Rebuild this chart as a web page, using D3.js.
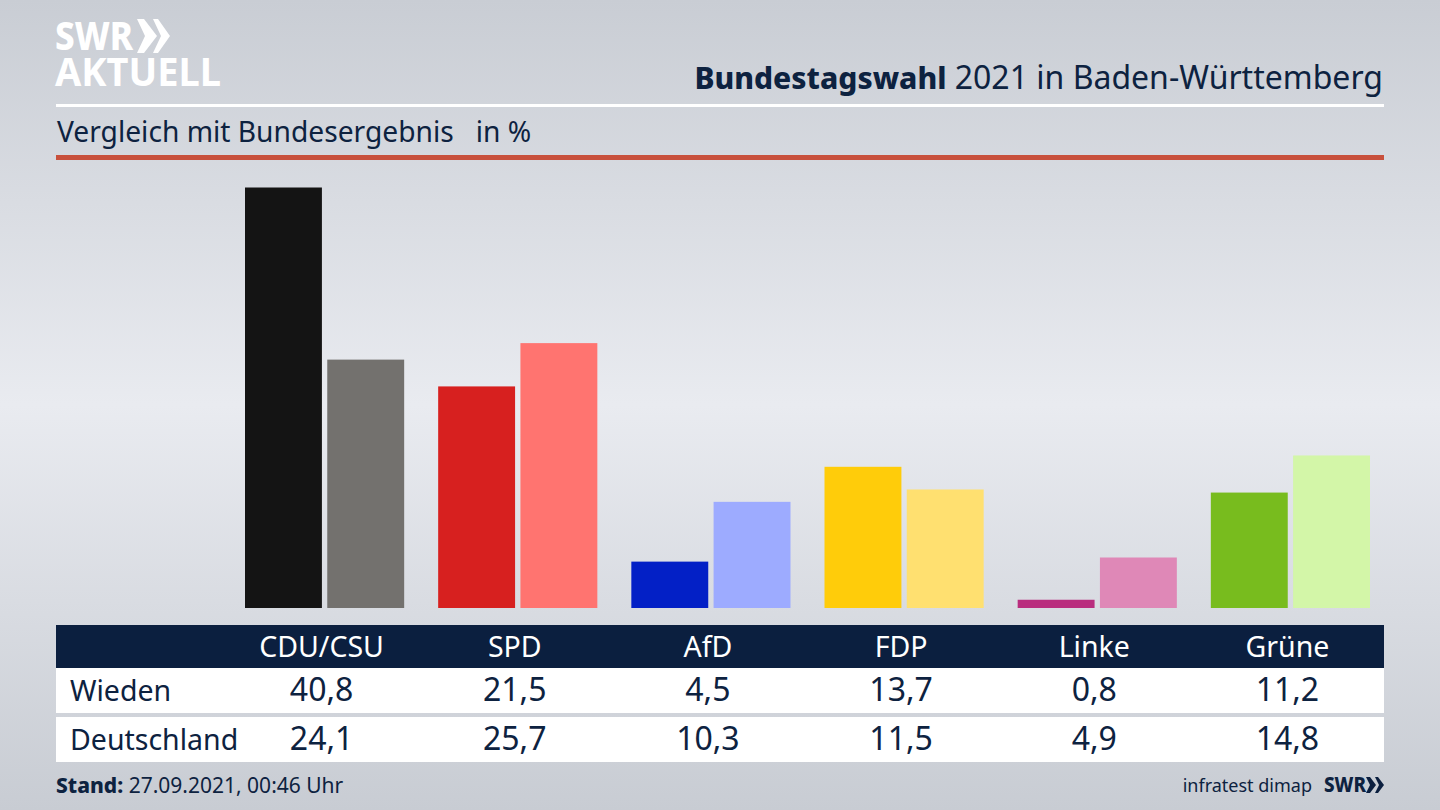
<!DOCTYPE html>
<html lang="de">
<head>
<meta charset="utf-8">
<title>Bundestagswahl 2021 in Baden-Württemberg</title>
<script src="https://cdn.jsdelivr.net/npm/d3@7"></script>
<style>
  html, body { margin: 0; padding: 0; background: #d5d8de; }
  svg { display: block; }
  text { font-family: "Noto Sans", sans-serif; fill: #0d2240; }
</style>
</head>
<body>
<svg width="1440" height="810"></svg>
<script>
// Data
var parties = ['CDU/CSU', 'SPD', 'AfD', 'FDP', 'Linke', 'Grüne'];
var seriesNames = ['Wieden', 'Deutschland'];
var wieden = [40.8, 21.5, 4.5, 13.7, 0.8, 11.2];
var deutschland = [24.1, 25.7, 10.3, 11.5, 4.9, 14.8];
var darkColors = ['#141414', '#d7201f', '#0320c6', '#ffcc0a', '#b92d7e', '#78bc1e'];
var lightColors = ['#73716e', '#ff7470', '#9dabff', '#ffe070', '#df88b7', '#d3f6a8'];

var navy = '#0b1f3f';
var svg = d3.select('svg');

// Background, light band through the middle
var grad = svg.append('defs').append('linearGradient')
    .attr('id', 'bg').attr('x1', 0).attr('y1', 0).attr('x2', 0).attr('y2', 1);
[[0, '#c9cdd4'], [0.5, '#e9ebf0'], [1, '#c8ccd3']].forEach(function(s) {
  grad.append('stop').attr('offset', s[0]).attr('stop-color', s[1]);
});
svg.append('rect').attr('width', 1440).attr('height', 810).attr('fill', 'url(#bg)');

// Scales: one band per party, two bars in each band
var x = d3.scaleBand().domain(parties).range([245, 1370]).paddingInner(0.176);
var xInner = d3.scaleBand().domain(seriesNames).range([0, x.bandwidth()]).paddingInner(0.065);
var y = d3.scaleLinear().domain([0, 40.8]).range([608, 187.5]);

// Logo
svg.append('text').attr('x', 55).attr('y', 50)
    .style('font-size', '40px').style('font-weight', 800).style('fill', '#fff')
    .attr('textLength', 78).attr('lengthAdjust', 'spacingAndGlyphs').text('SWR');
svg.append('text').attr('x', 55).attr('y', 86)
    .style('font-size', '40px').style('font-weight', 700).style('fill', '#fff')
    .attr('textLength', 166).attr('lengthAdjust', 'spacingAndGlyphs').text('AKTUELL');
svg.append('path').attr('fill', '#fff')
    .attr('d', 'M137 19h7l13 17-13 17h-7l8-17zM153 19h5l12 17-12 17h-5l8-17z');

// Header
var title = svg.append('text').attr('x', 1383).attr('y', 89).attr('text-anchor', 'end');
title.append('tspan').style('font-size', '30px').style('font-weight', 800).text('Bundestagswahl');
title.append('tspan').style('font-size', '32px').text(' 2021 in Baden-Württemberg');
svg.append('rect').attr('x', 56).attr('y', 104).attr('width', 1328).attr('height', 3).attr('fill', '#fff');
svg.append('text').attr('x', 57).attr('y', 142).style('font-size', '28.2px')
    .attr('xml:space', 'preserve').style('white-space', 'pre').text('Vergleich mit Bundesergebnis   in %');
svg.append('rect').attr('x', 56).attr('y', 155).attr('width', 1328).attr('height', 5).attr('fill', '#c8503c');

// Bars
var groups = svg.selectAll('.party')
    .data(parties)
  .enter().append('g')
    .attr('class', 'party')
    .attr('transform', function(d) { return 'translate(' + x(d) + ',0)'; });

groups.append('rect')
    .attr('x', xInner('Wieden'))
    .attr('width', xInner.bandwidth())
    .attr('y', function(d, i) { return y(wieden[i]); })
    .attr('height', function(d, i) { return y(0) - y(wieden[i]); })
    .attr('fill', function(d, i) { return darkColors[i]; });

groups.append('rect')
    .attr('x', xInner('Deutschland'))
    .attr('width', xInner.bandwidth())
    .attr('y', function(d, i) { return y(deutschland[i]); })
    .attr('height', function(d, i) { return y(0) - y(deutschland[i]); })
    .attr('fill', function(d, i) { return lightColors[i]; });

// Table under the bars
svg.append('rect').attr('x', 56).attr('y', 625).attr('width', 1328).attr('height', 43).attr('fill', navy);
svg.append('rect').attr('x', 56).attr('y', 668).attr('width', 1328).attr('height', 45).attr('fill', '#fff');
svg.append('rect').attr('x', 56).attr('y', 717).attr('width', 1328).attr('height', 45).attr('fill', '#fff');

// Column centres sit slightly left of the bar groups
function colX(d) { return x(d) + x.bandwidth() / 2 - 3; }
function comma(v) { return d3.format('.1f')(v).replace('.', ','); }

svg.selectAll('.head')
    .data(parties)
  .enter().append('text')
    .attr('class', 'head')
    .attr('x', colX).attr('y', 657).attr('text-anchor', 'middle')
    .style('font-size', '28.5px').style('fill', '#fff')
    .text(function(d) { return d; });

[[seriesNames[0], wieden, 701], [seriesNames[1], deutschland, 750]].forEach(function(row) {
  svg.append('text').attr('x', 70).attr('y', row[2]).style('font-size', '28.5px').text(row[0]);
  svg.selectAll('.row' + row[2])
      .data(row[1])
    .enter().append('text')
      .attr('x', function(d, i) { return colX(parties[i]); })
      .attr('y', row[2]).attr('text-anchor', 'middle')
      .style('font-size', '32px')
      .text(comma);
});

// Footer
var stand = svg.append('text').attr('x', 56).attr('y', 793).style('font-size', '21px');
stand.append('tspan').style('font-weight', 800).text('Stand:');
stand.append('tspan').text(' 27.09.2021, 00:46 Uhr');
svg.append('text').attr('x', 1312).attr('y', 792).attr('text-anchor', 'end')
    .style('font-size', '18px').text('infratest dimap');
svg.append('text').attr('x', 1324).attr('y', 792)
    .style('font-size', '21px').style('font-weight', 800)
    .attr('textLength', 42).attr('lengthAdjust', 'spacingAndGlyphs').text('SWR');
svg.append('path').attr('fill', navy)
    .attr('d', 'M1366 777h4l6 8-6 8h-4l4-8zM1375 777h3l6 8-6 8h-3l4-8z');
</script>
</body>
</html>
